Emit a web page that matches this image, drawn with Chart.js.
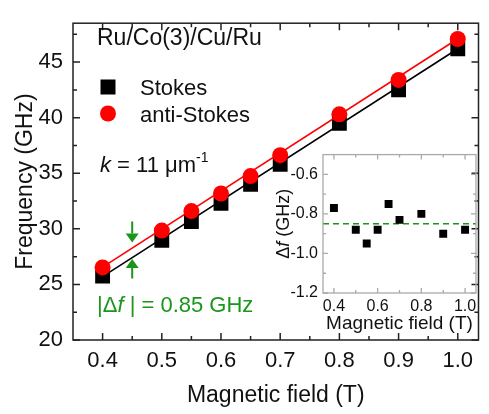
<!DOCTYPE html>
<html>
<head>
<meta charset="utf-8">
<script src="https://cdn.jsdelivr.net/npm/chart.js@4/dist/chart.umd.min.js"></script>
<style>
  html, body { margin: 0; padding: 0; background: #fff; }
  #wrap { position: relative; width: 489px; height: 414px; }
  #mainChart { position: absolute; left: 0; top: 0; }
  #insetChart { position: absolute; left: 270px; top: 140px; }
</style>
</head>
<body>
<div id="wrap">
  <canvas id="mainChart" width="489" height="414"></canvas>
  <canvas id="insetChart" width="212" height="198"></canvas>
</div>
<script>
// ===== data =====
const fields = [0.4, 0.5, 0.55, 0.6, 0.65, 0.7, 0.8, 0.9, 1.0];
const stokes = [25.76, 28.96, 30.65, 32.3, 34.0, 35.8, 39.5, 42.5, 46.2];
const antiStokes = [26.53, 29.84, 31.6, 33.18, 34.75, 36.63, 40.3, 43.4, 47.08];
const fitFields = [0.4, 1.0];
const stokesFit = [25.7, 46.2];
const antiStokesFit = [26.55, 47.1];
const deltaF = [-0.77, -0.88, -0.95, -0.88, -0.75, -0.83, -0.80, -0.90, -0.88];
const meanFields = [0.35, 1.05];
const meanDeltaF = [-0.85, -0.85];

const mainXTicks = [0.4, 0.5, 0.6, 0.7, 0.8, 0.9, 1.0];
const mainYTicks = [20, 25, 30, 35, 40, 45];
const insetXTicks = [0.4, 0.6, 0.8, 1.0];
const insetYTicks = [-1.2, -1.0, -0.8, -0.6];

const FONT = '"Liberation Sans", Arial, sans-serif';
const GREEN = "#1a961a";
Chart.defaults.font.family = FONT;
Chart.defaults.color = "#111";

const pts = (xs, ys) => xs.map((x, i) => ({ x, y: ys[i] }));

// inward ticks on all four sides + frame
function frameTicks(xMajor, xMinorStep, yMajor, yMinorStep, style) {
  return {
    id: "frameTicks",
    afterDraw(chart) {
      const { ctx, chartArea: a, scales: { x: sx, y: sy } } = chart;
      const withMinor = (major, step, s) => {
        const out = major.map(v => [v, style.major]);
        major.forEach(v => {
          [v - step, v + step].forEach(m => {
            if (m > s.min + 1e-9 && m < s.max - 1e-9 && !out.some(o => Math.abs(o[0] - m) < 1e-9)) out.push([m, style.minor]);
          });
        });
        return out;
      };
      ctx.save();
      ctx.strokeStyle = style.color;
      ctx.lineWidth = style.width;
      ctx.beginPath();
      withMinor(xMajor, xMinorStep, sx).forEach(([v, len]) => {
        const p = sx.getPixelForValue(v);
        ctx.moveTo(p, a.bottom); ctx.lineTo(p, a.bottom - len);
        ctx.moveTo(p, a.top); ctx.lineTo(p, a.top + len);
      });
      withMinor(yMajor, yMinorStep, sy).forEach(([v, len]) => {
        const p = sy.getPixelForValue(v);
        ctx.moveTo(a.left, p); ctx.lineTo(a.left + len, p);
        ctx.moveTo(a.right, p); ctx.lineTo(a.right - len, p);
      });
      ctx.stroke();
      ctx.strokeRect(a.left, a.top, a.right - a.left, a.bottom - a.top);
      ctx.restore();
    }
  };
}

function drawRuns(ctx, x, y, runs) {
  runs.forEach(r => {
    ctx.font = r.font;
    ctx.fillText(r.text, x, y + (r.dy || 0));
    x += ctx.measureText(r.text).width;
  });
}

function arrow(ctx, x, tail, tip) {
  const dir = tip > tail ? 1 : -1;
  const head = 9;
  ctx.beginPath();
  ctx.moveTo(x, tail); ctx.lineTo(x, tip - dir * head);
  ctx.stroke();
  ctx.beginPath();
  ctx.moveTo(x - 6.5, tip - dir * head);
  ctx.lineTo(x + 6.5, tip - dir * head);
  ctx.lineTo(x, tip);
  ctx.closePath();
  ctx.fill();
}

// ===== labels inside the main plot =====
const mainText = {
  id: "mainText",
  afterDraw(chart) {
    const { ctx, scales: { x } } = chart;
    const f22 = `22px ${FONT}`;
    ctx.save();
    ctx.fillStyle = "#111";
    ctx.textBaseline = "alphabetic";
    ctx.font = `23px ${FONT}`;
    ctx.fillText("Ru/Co(3)/Cu/Ru", 97, 45);
    ctx.font = f22;

    // legend
    ctx.fillStyle = "#000";
    ctx.fillRect(108 - 7.5, 87 - 7.5, 15, 15);
    ctx.fillStyle = "#ff0000";
    ctx.beginPath(); ctx.arc(108, 113.5, 8, 0, Math.PI * 2); ctx.fill();
    ctx.fillStyle = "#111";
    ctx.fillText("Stokes", 140, 94.5);
    ctx.fillText("anti-Stokes", 140, 121.5);

    drawRuns(ctx, 100, 172, [
      { text: "k", font: `italic 22px ${FONT}` },
      { text: " = 11 \u03bcm", font: f22 },
      { text: "-1", font: `14px ${FONT}`, dy: -10 }
    ]);

    ctx.fillStyle = GREEN;
    drawRuns(ctx, 97, 312, [
      { text: "|\u0394", font: f22 },
      { text: "f", font: `italic 22px ${FONT}` },
      { text: " | = 0.85 GHz", font: f22 }
    ]);

    ctx.strokeStyle = GREEN;
    ctx.lineWidth = 2;
    const ax = x.getPixelForValue(0.45);
    arrow(ctx, ax, 221.5, 242.5);
    arrow(ctx, ax, 278.5, 259);
    ctx.restore();
  }
};

new Chart(document.getElementById("mainChart"), {
  type: "scatter",
  data: {
    datasets: [
      { label: "anti-Stokes", data: pts(fields, antiStokes), pointStyle: "circle", pointRadius: 8,
        backgroundColor: "#ff0000", borderWidth: 0, order: 0 },
      { label: "anti-Stokes fit", data: pts(fitFields, antiStokesFit), showLine: true, pointRadius: 0,
        borderColor: "#ff0000", borderWidth: 1.6, order: 1 },
      { label: "Stokes", data: pts(fields, stokes), pointStyle: "rect", pointRadius: 10.5,
        backgroundColor: "#000", borderWidth: 0, order: 2 },
      { label: "Stokes fit", data: pts(fitFields, stokesFit), showLine: true, pointRadius: 0,
        borderColor: "#000", borderWidth: 1.6, order: 3 }
    ]
  },
  options: {
    responsive: false,
    animation: false,
    events: [],
    layout: { padding: { top: 4, right: 6, left: 0, bottom: 0 } },
    plugins: { legend: { display: false }, tooltip: { enabled: false } },
    scales: {
      x: {
        type: "linear", min: 0.35, max: 1.035,
        grid: { display: false, drawTicks: false }, border: { display: false },
        afterBuildTicks: s => { s.ticks = mainXTicks.map(v => ({ value: v })); },
        afterFit: s => { s.height = 74; },
        ticks: { padding: 8, font: { size: 22 }, color: "#111", callback: v => v.toFixed(1), maxRotation: 0 },
        title: { display: true, text: "Magnetic field (T)", font: { size: 23 }, color: "#111", padding: { top: 0, bottom: 5 } }
      },
      y: {
        min: 20, max: 48.5,
        grid: { display: false, drawTicks: false }, border: { display: false },
        afterBuildTicks: s => { s.ticks = mainYTicks.map(v => ({ value: v })); },
        afterFit: s => { s.width = 73; },
        ticks: { padding: 10, font: { size: 22 }, color: "#111" },
        title: { display: true, text: "Frequency (GHz)", font: { size: 23 }, color: "#111", padding: { top: 12, bottom: 0 } }
      }
    }
  },
  plugins: [frameTicks(mainXTicks, 0.05, mainYTicks, 2.5, { color: "#222", width: 1.5, major: 7, minor: 4 }), mainText]
});

// ===== inset: frequency difference =====
const insetText = {
  id: "insetText",
  afterDraw(chart) {
    const { ctx, chartArea: a } = chart;
    const runs = [
      { text: "\u0394", font: `18px ${FONT}` },
      { text: "f", font: `italic 18px ${FONT}` },
      { text: " (GHz)", font: `18px ${FONT}` }
    ];
    let w = 0;
    runs.forEach(r => { ctx.font = r.font; w += ctx.measureText(r.text).width; });
    ctx.save();
    ctx.fillStyle = "#111";
    ctx.textBaseline = "middle";
    ctx.translate(14, (a.top + a.bottom) / 2);
    ctx.rotate(-Math.PI / 2);
    drawRuns(ctx, -w / 2, 0, runs);
    ctx.restore();
  }
};

new Chart(document.getElementById("insetChart"), {
  type: "scatter",
  data: {
    datasets: [
      { label: "delta f", data: pts(fields, deltaF), pointStyle: "rect", pointRadius: 5.6,
        backgroundColor: "#000", borderWidth: 0, order: 0 },
      { label: "mean", data: pts(meanFields, meanDeltaF), showLine: true, pointRadius: 0,
        borderColor: GREEN, borderWidth: 1.6, borderDash: [6, 4], order: 1 }
    ]
  },
  options: {
    responsive: false,
    animation: false,
    events: [],
    layout: { padding: { top: 11, right: 6, left: 0, bottom: 0 } },
    plugins: { legend: { display: false }, tooltip: { enabled: false } },
    scales: {
      x: {
        type: "linear", min: 0.35, max: 1.05,
        grid: { display: false, drawTicks: false }, border: { display: false },
        afterBuildTicks: s => { s.ticks = insetXTicks.map(v => ({ value: v })); },
        afterFit: s => { s.height = 45; },
        ticks: { padding: 4, font: { size: 16 }, color: "#111", callback: v => v.toFixed(1), maxRotation: 0 },
        title: { display: true, text: "Magnetic field (T)", font: { size: 19 }, color: "#111", padding: { top: 0, bottom: 3 } }
      },
      y: {
        min: -1.2, max: -0.5,
        grid: { display: false, drawTicks: false }, border: { display: false },
        afterBuildTicks: s => { s.ticks = insetYTicks.map(v => ({ value: v })); },
        afterFit: s => { s.width = 53; },
        ticks: { padding: 5, font: { size: 16 }, color: "#111", callback: v => v.toFixed(1) }
      }
    }
  },
  plugins: [frameTicks(insetXTicks, 0.1, insetYTicks, 0.1, { color: "#aaa", width: 1.3, major: 5, minor: 3 }), insetText]
});
</script>
</body>
</html>
